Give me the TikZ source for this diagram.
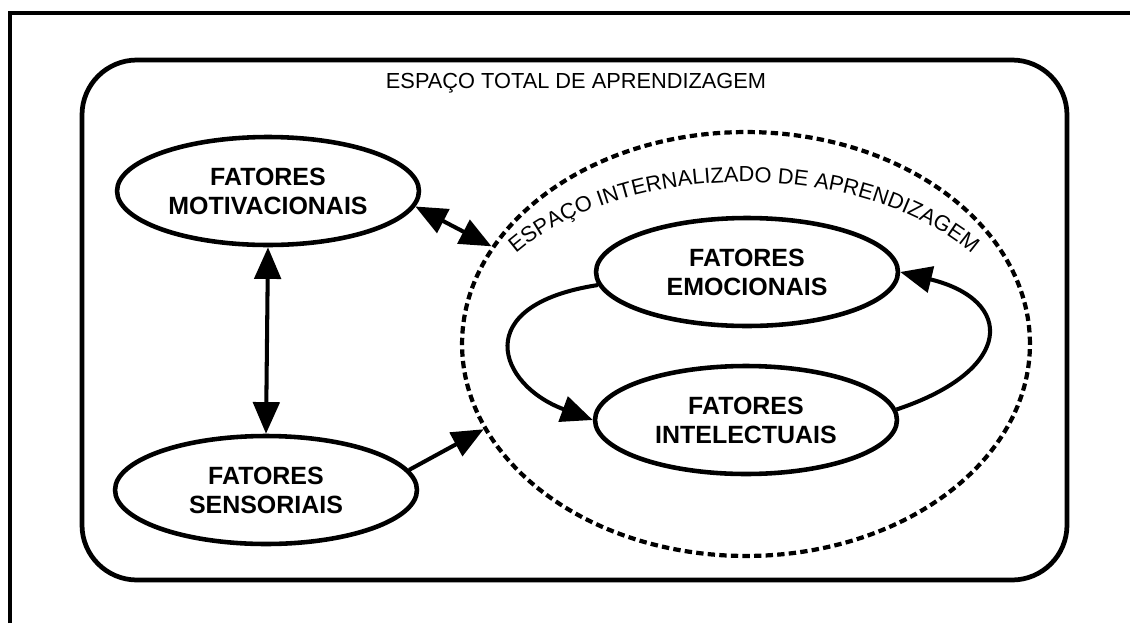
\documentclass[tikz,border=0pt]{standalone}
\usepackage{fontspec}
\setmainfont{Liberation Sans}
\usepackage{tikz}
\usetikzlibrary{shapes,arrows.meta,decorations.text,positioning}

\begin{document}
\begin{tikzpicture}[x=0.02cm, y=-0.02cm]
			\tikzstyle{Frame}	= [line width=2.4pt]
			\tikzstyle{Total}	= [line width=2.7pt, rounded corners=1.1cm]
			\tikzstyle{Factor}	= [ellipse, draw, line width=2.6pt, minimum width=6.04cm, minimum height=2.16cm, inner sep=0pt, align=center, font=\bfseries\fontsize{14.2}{16.5}\selectfont]
			\tikzstyle{Internal}	= [ellipse, draw, line width=2.4pt, dash pattern=on 4.2pt off 2.4pt, minimum width=11.36cm, minimum height=8.48cm, inner sep=0pt]
			\tikzstyle{Caption}	= [font=\fontsize{12.4}{14}\selectfont]
			\tikzstyle{Link}	= [line width=2.3pt, >={Triangle[length=18pt, width=15pt]}]

			\useasboundingbox (0,0) rectangle (1130,623);
			\draw [Frame] (10,623) -- (10,13) -- (1130,13);
			\draw [Total] (82,60) rectangle (1067,580);
			\node (title) at (576,83) [Caption] {ESPAÇO TOTAL DE APRENDIZAGEM};

			\node (inner) at (746,344) [Internal] {};
			\path [decorate, decoration={text along path, text align=center,
				text={|\fontsize{12.4}{14}\selectfont|ESPAÇO INTERNALIZADO DE APRENDIZAGEM}}]
				(744,350) ++(160:5.56cm and 3.36cm) arc [start angle=160, end angle=20, x radius=5.56cm, y radius=3.36cm];

			\node (mot) at (268,191) [Factor] {FATORES\\MOTIVACIONAIS};
			\node (sen) at (266,490) [Factor] {FATORES\\SENSORIAIS};
			\node (emo) at (747,272) [Factor] {FATORES\\EMOCIONAIS};
			\node (int) at (746,420) [Factor] {FATORES\\INTELECTUAIS};

			\draw [Link, <->] (mot.-6) to (inner.159);
			\draw [Link, <->] (mot.south) to (sen.north);
			\draw [Link, ->] (sen.8) to (inner.198);
			\draw [Link, ->] (emo.185) .. controls (468,305) and (498,385) .. (int.west);
			\draw [Link, ->] (int.4) .. controls (1015,370) and (1015,300) .. (emo.east);
		\end{tikzpicture}
\end{document}
